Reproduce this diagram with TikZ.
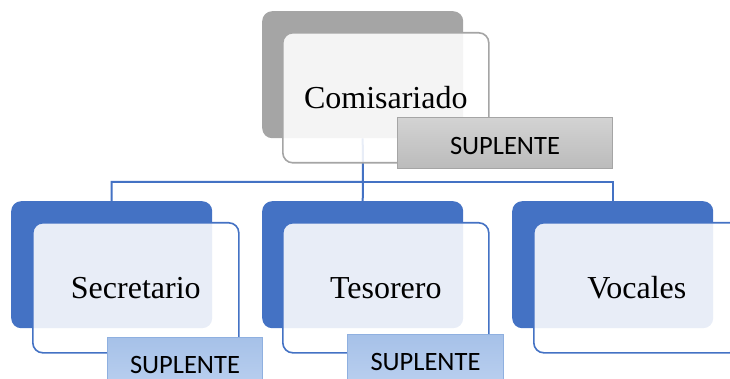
\documentclass[tikz,border=0pt]{standalone}
\usepackage{fontspec}
\setmainfont{Liberation Serif}
\newfontfamily\suplfont{Carlito}
\definecolor{accblue}{HTML}{4472C4}
\definecolor{accgray}{HTML}{A5A5A5}
\definecolor{blueTop}{HTML}{A6C1E8}
\definecolor{blueBot}{HTML}{BCD1F0}
\definecolor{grayTop}{HTML}{D3D3D3}
\definecolor{grayBot}{HTML}{BBBBBB}
\definecolor{blueEdge}{HTML}{8FB0E0}
\begin{document}
\begin{tikzpicture}[x=1pt,y=-1pt,
  backbox/.style={rectangle,rounded corners=10pt,minimum width=201pt,minimum height=127pt,inner sep=0pt,anchor=north west,draw=none},
  frontbox/.style={rectangle,rounded corners=10pt,minimum width=206pt,minimum height=130pt,inner sep=0pt,anchor=north west,fill=white,fill opacity=0.88,text opacity=1,line width=1.6pt,font=\fontsize{32}{38}\selectfont},
  suplbox/.style={rectangle,inner sep=0pt,anchor=north west,line width=1pt,font=\suplfont\fontsize{26.5}{31}\selectfont},
  conn/.style={draw=accblue,line width=2pt}]
\useasboundingbox (0,0) rectangle (730,379);
\clip (0,0) rectangle (730,379);
% back boxes
\node[backbox,fill=accgray] (topback) at (262,11) {};
\node[backbox,fill=accblue] (leftback) at (11,201) {};
\node[backbox,fill=accblue] (midback) at (262,201) {};
\node[backbox,fill=accblue] (rightback) at (512,201) {};
% connectors
\coordinate (bus) at (363,182);
\draw[conn] (topback.south) -- (bus) -| (leftback.north);
\draw[conn] (bus) -| (rightback.north);
\draw[conn] (bus) -- (midback.north);
% front boxes
\node[frontbox,draw=accgray] (topfront) at (282,32) {Comisariado};
\node[frontbox,draw=accblue] (leftfront) at (32,222) {Secretario};
\node[frontbox,draw=accblue] (midfront) at (282,222) {Tesorero};
\node[frontbox,draw=accblue] (rightfront) at (533,222) {Vocales};
% suplente boxes
\node[suplbox,draw=accgray,top color=grayTop,bottom color=grayBot,minimum width=215pt,minimum height=51pt] (topsupl) at (397,117) {\raisebox{-3pt}[\height][0pt]{SUPLENTE}};
\node[suplbox,draw=blueEdge,top color=blueTop,bottom color=blueBot,minimum width=155pt,minimum height=55pt] (leftsupl) at (107,337) {SUPLENTE};
\node[suplbox,draw=blueEdge,top color=blueTop,bottom color=blueBot,minimum width=156pt,minimum height=55pt] (midsupl) at (347,334) {SUPLENTE};
\end{tikzpicture}
\end{document}
